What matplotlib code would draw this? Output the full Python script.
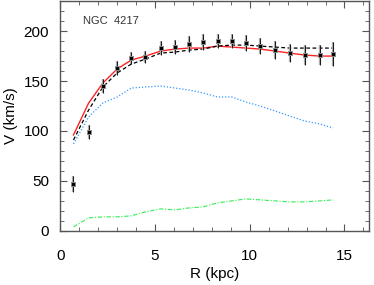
import matplotlib
matplotlib.use("Agg")
import matplotlib.pyplot as plt
from matplotlib.ticker import MultipleLocator

plt.rcParams['font.family'] = ['Liberation Sans', 'DejaVu Sans']

R = [0.7, 1.5, 2.25, 3.0, 3.75, 4.5, 5.3, 6.05, 6.8, 7.55, 8.3, 9.05, 9.8,
     10.55, 11.35, 12.1, 12.9, 13.7, 14.4]
V_obs = [47, 99, 145, 163, 173, 174, 183, 184, 187, 189, 190, 190, 188,
         185, 181, 178, 176, 176, 177]
V_err = [8, 7, 7, 7, 6, 6, 7, 7, 8, 8, 7, 7, 8, 8, 9, 9, 10, 10, 12]
V_total = [96, 128, 148, 162, 171, 175, 180, 182, 183, 183, 185, 184, 183,
           182, 180, 178, 176, 175, 175]
V_dashed = [91, 121, 144, 158, 167, 172, 178, 179, 181, 182, 185, 186, 186,
            185, 184, 183, 183, 183, 183]
V_disk = [87, 114, 128, 134, 143, 144, 145, 143, 141, 138, 134, 134, 129,
          125, 120, 115, 110, 107, 103]
V_gas = [4, 13, 14, 14, 15, 19, 22, 21, 23, 24, 28, 30, 32, 31, 30, 29, 29, 30, 31]

fig = plt.figure(figsize=(3.74, 2.85), dpi=100)
ax = fig.add_axes([0.161, 0.19, 0.826, 0.806])

ax.plot(R, V_gas, color='#33ee55', lw=0.8, ls=(0, (4, 1.5, 1, 1.5)))
ax.plot(R, V_disk, color='#3399ff', lw=0.9, ls=(0, (1, 1.5)))
ax.plot(R, V_total, color='#ff2222', lw=1.0)
ax.plot(R, V_dashed, color='black', lw=0.9, ls=(0, (3, 2)))
ax.errorbar(R, V_obs, yerr=V_err, fmt='none', ecolor='#aaaaaa', elinewidth=1.6, capsize=0)
ax.errorbar(R, V_obs, yerr=V_err, fmt='none', ecolor='black', elinewidth=0.6, capsize=0)
ax.plot(R, V_obs, ls='none', marker='s', ms=3.2, mfc='black', mec='#888888', mew=0.7)

ax.text(1.2, 210, 'NGC  4217', fontsize=8, color='#333333', va='center')

ax.set_xlim(0, 16.3)
ax.set_ylim(0, 230)
ax.xaxis.set_major_locator(MultipleLocator(5))
ax.xaxis.set_minor_locator(MultipleLocator(1))
ax.yaxis.set_major_locator(MultipleLocator(50))
ax.yaxis.set_minor_locator(MultipleLocator(10))
ax.tick_params(which='both', direction='in', top=True, right=True, color='#555555')
ax.tick_params(which='major', length=5, width=0.8, labelsize=11)
ax.tick_params(axis='y', which='major', pad=8)
ax.tick_params(axis='x', which='major', pad=13)
ax.tick_params(which='minor', length=3, width=0.6)
for s in ax.spines.values():
    s.set_color('#555555')
    s.set_linewidth(1.0)

ax.set_xlabel('R (kpc)', fontsize=11, labelpad=3)
ax.set_ylabel('V (km/s)', fontsize=11, labelpad=4)

fig.savefig('out.png', dpi=100)
